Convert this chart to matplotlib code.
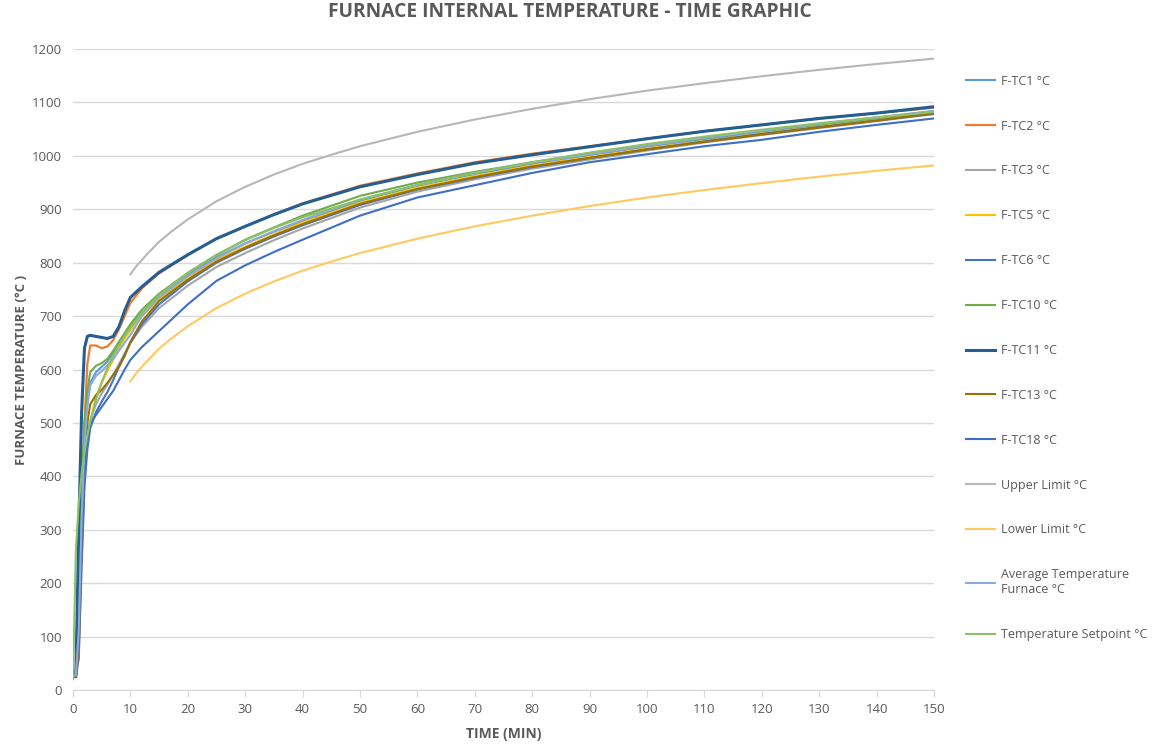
import matplotlib
matplotlib.use("Agg")
from matplotlib import pyplot as plt

# time grid of the thermocouple readings (min)
time_min = [0, 0.5, 1, 1.5, 2, 2.5, 3, 4, 5, 6, 7, 8, 9, 10, 12, 15, 20, 25, 30, 35,
            40, 50, 60, 70, 80, 90, 100, 110, 120, 130, 140, 150]

tc1 = [25, 30, 120, 330, 470, 540, 575, 595, 605, 615, 630, 648, 664, 680, 706, 738, 777, 810, 836, 858,
       878, 916, 944, 966, 985, 1001, 1017, 1031, 1044, 1057, 1069, 1082]
tc2 = [25, 25, 100, 300, 500, 610, 645, 645, 640, 643, 655, 675, 700, 725, 752, 780, 814, 845, 868, 890,
       911, 944, 967, 988, 1004, 1018, 1032, 1046, 1058, 1070, 1080, 1090]
tc3 = [25, 25, 70, 260, 400, 470, 505, 535, 555, 572, 590, 610, 630, 650, 680, 715, 757, 792, 818, 842,
       864, 903, 933, 956, 976, 993, 1010, 1025, 1039, 1052, 1065, 1078]
tc5 = [25, 25, 60, 250, 400, 470, 500, 550, 575, 598, 618, 640, 658, 674, 700, 732, 772, 805, 830, 853,
       875, 912, 940, 962, 982, 998, 1014, 1028, 1042, 1055, 1067, 1080]
tc6 = [25, 25, 60, 230, 380, 450, 490, 520, 540, 558, 580, 605, 628, 650, 685, 722, 765, 800, 826, 849,
       870, 908, 937, 959, 979, 996, 1012, 1027, 1041, 1054, 1066, 1079]
tc10 = [25, 40, 180, 380, 500, 560, 595, 607, 612, 620, 635, 652, 668, 685, 712, 742, 781, 814, 843, 866,
        888, 925, 950, 970, 988, 1005, 1020, 1034, 1047, 1059, 1071, 1084]
tc11 = [25, 25, 300, 520, 640, 662, 664, 662, 660, 658, 662, 680, 710, 735, 755, 782, 815, 845, 868, 890,
        910, 942, 965, 986, 1002, 1017, 1032, 1046, 1058, 1070, 1080, 1092]
tc13 = [25, 25, 80, 280, 430, 500, 535, 552, 562, 575, 590, 605, 625, 652, 690, 728, 768, 802, 828, 851,
        872, 910, 938, 960, 980, 996, 1012, 1026, 1040, 1053, 1066, 1080]
tc18 = [25, 30, 100, 280, 420, 480, 498, 515, 530, 545, 560, 580, 600, 618, 642, 672, 722, 766, 795, 820,
        843, 888, 922, 945, 968, 988, 1003, 1018, 1030, 1045, 1058, 1070]
average = [25, 28, 110, 320, 460, 530, 570, 588, 597, 608, 620, 635, 650, 665, 700, 735, 775, 808, 836, 859,
           880, 918, 946, 968, 987, 1003, 1019, 1034, 1047, 1060, 1072, 1084]
setpoint = [20, 261, 349, 405, 445, 477, 502, 544, 576, 603, 626, 645, 663, 678, 705, 739, 781, 815, 842, 865,
            885, 918, 945, 968, 988, 1006, 1022, 1036, 1049, 1061, 1072, 1082]

# tolerance limits start at 10 min
limit_time = [10, 11, 12, 13, 14, 15, 17, 20, 25, 30, 35, 40, 45, 50, 60, 70, 80, 90, 100, 110,
              120, 130, 140, 150]
upper_limit = [778, 793, 805, 817, 828, 839, 857, 881, 915, 942, 965, 985, 1002, 1018, 1045, 1068, 1088,
               1106, 1122, 1136, 1149, 1161, 1172, 1182]
lower_limit = [578, 593, 605, 617, 628, 639, 657, 681, 715, 742, 765, 785, 802, 818, 845, 868, 888,
               906, 922, 936, 949, 961, 972, 982]

x_ticks = list(range(0, 151, 10))
y_ticks = list(range(0, 1201, 100))

text_gray = "#595959"
plt.rcParams["font.family"] = ["Open Sans", "DejaVu Sans"]

fig = plt.figure(figsize=(11.55, 7.47), dpi=100)
ax = fig.add_axes([0.0632, 0.0763, 0.7455, 0.8581])

series = [
    (time_min, tc1, "F-TC1 °C", "#5B9BD5", 1.5),
    (time_min, tc2, "F-TC2 °C", "#ED7D31", 1.6),
    (time_min, tc3, "F-TC3 °C", "#A5A5A5", 1.5),
    (time_min, tc5, "F-TC5 °C", "#FFC000", 1.5),
    (time_min, tc6, "F-TC6 °C", "#4472C4", 1.5),
    (time_min, tc10, "F-TC10 °C", "#70AD47", 1.5),
    (time_min, tc11, "F-TC11 °C", "#255E91", 2.2),
    (time_min, tc13, "F-TC13 °C", "#997300", 1.5),
    (time_min, tc18, "F-TC18 °C", "#3F6EC5", 1.5),
    (limit_time, upper_limit, "Upper Limit °C", "#B7B7B7", 1.5),
    (limit_time, lower_limit, "Lower Limit °C", "#FFC95E", 1.5),
    (time_min, average, "Average Temperature\nFurnace °C", "#8FA9DC", 1.5),
    (time_min, setpoint, "Temperature Setpoint °C", "#8CC168", 1.5),
]
for xs, ys, label, color, lw in series:
    ax.plot(xs, ys, color=color, linewidth=lw, label=label)

ax.set_xlim(0, 150)
ax.set_ylim(0, 1200)
ax.set_xticks(x_ticks)
ax.set_yticks(y_ticks)
ax.grid(axis="y", color="#d9d9d9", linewidth=1)
ax.set_axisbelow(True)
for side in ["top", "right", "left"]:
    ax.spines[side].set_visible(False)
ax.spines["bottom"].set_color("#d9d9d9")
ax.tick_params(axis="x", colors="#d9d9d9", labelcolor=text_gray, labelsize=9.5, length=5, pad=4)
ax.tick_params(axis="y", length=0, labelcolor=text_gray, labelsize=9.5, pad=8)

ax.set_xlabel("TIME (MIN)", fontsize=10, fontweight="bold", color=text_gray, labelpad=8)
ax.set_ylabel("FURNACE TEMPERATURE (°C )", fontsize=9.5, fontweight="bold", color=text_gray, labelpad=3)
fig.text(0.493, 0.984, "FURNACE INTERNAL TEMPERATURE - TIME GRAPHIC", ha="center", va="center",
         fontsize=13.8, fontweight="bold", color=text_gray)

fig.legend(loc="upper left", bbox_to_anchor=(0.827, 0.915), frameon=False, fontsize=9,
           labelcolor=text_gray, labelspacing=2.55, handlelength=2.3, handletextpad=0.5)

fig.savefig("out.png", dpi=100)
